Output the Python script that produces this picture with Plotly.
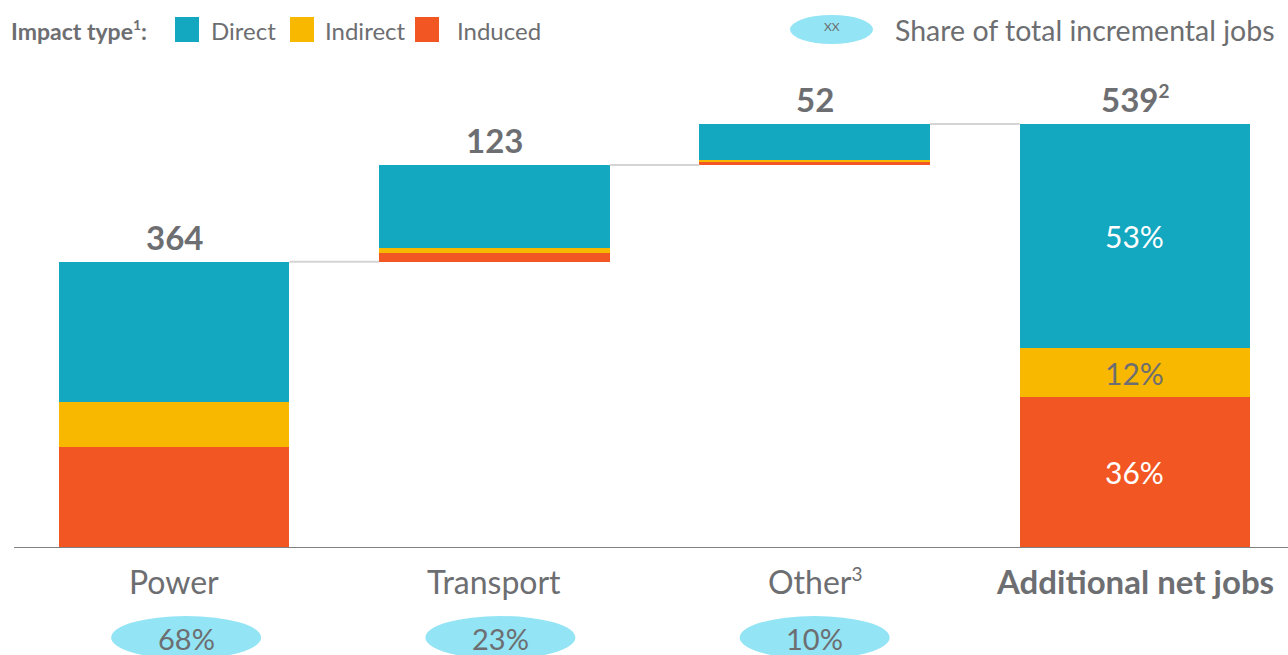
import plotly.graph_objects as go

# ---- data ----
categories = ["Power", "Transport", "Other<sup><span style='font-size:19px'>3</span></sup>", "<b>Additional net jobs</b>"]
direct = [179, 106, 46, 285]
indirect = [57, 6, 2, 62]
induced = [128, 11, 4, 192]
totals = [364, 123, 52, 539]
total_labels = ["364", "123", "52", "539<sup><span style='font-size:19px'>2</span></sup>"]
shares = ["68%", "23%", "10%"]
total_pcts = ["53%", "12%", "36%"]  # direct, indirect, induced of final bar

C_DIRECT = "#13A7C0"
C_INDIRECT = "#F9B800"
C_INDUCED = "#F15623"
GRAY = "#6d6e71"
FONT = "Lato"

x = list(range(len(categories)))
starts = []
run = 0
for i, t in enumerate(totals):
    if i == len(totals) - 1:
        starts.append(0)
    else:
        starts.append(run)
        run += t

BW = 0.72
fig = go.Figure()
series = [("Induced", induced, C_INDUCED), ("Indirect", indirect, C_INDIRECT), ("Direct", direct, C_DIRECT)]
bases = list(starts)
for name, vals, col in series:
    fig.add_trace(go.Bar(x=x, y=vals, base=bases, name=name, marker=dict(color=col, line=dict(width=0)),
                         width=BW, showlegend=False, hoverinfo="skip"))
    bases = [b + v for b, v in zip(bases, vals)]

# pixel helpers (plot area: left 14, width 1274, baseline 548, height 472)
L, W, B, H = 14, 1274, 548, 472
XMIN, XMAX = -0.5, 3.478
UNIT = W / (XMAX - XMIN)
def px(v):
    return (v - L) / W
def py(v):
    return (B - v) / H
def xp(i):  # category index -> paper x
    return (i - XMIN) / (XMAX - XMIN)

ELL_DX = [12, 6, 0]   # small pixel offsets of the share ellipses
ELL_HALF = 75 / UNIT

shapes = []
annotations = []
for i in range(len(totals) - 1):
    top = starts[i] + totals[i]
    shapes.append(dict(type="line", xref="x", yref="y", x0=i + BW / 2, x1=i + 1 - BW / 2, y0=top, y1=top,
                       line=dict(color="#d4d4d4", width=2)))
for i in x:
    annotations.append(dict(x=i, y=starts[i] + totals[i], xref="x", yref="y", text="<b>%s</b>" % total_labels[i],
                            showarrow=False, yanchor="bottom", xanchor="center", yshift=3,
                            font=dict(family=FONT, size=33, color=GRAY)))
for i in x:
    size = 32 if i < len(x) - 1 else 33
    annotations.append(dict(x=xp(i), y=py(581), xref="paper", yref="paper", text=categories[i], showarrow=False,
                            xanchor="center", yanchor="middle", font=dict(family=FONT, size=size, color=GRAY)))
for i, s in enumerate(shares):
    cx = i + ELL_DX[i] / UNIT
    shapes.append(dict(type="circle", xref="paper", yref="paper", x0=xp(cx - ELL_HALF), x1=xp(cx + ELL_HALF),
                       y0=py(659), y1=py(616), fillcolor="#93E4F4", line=dict(width=0)))
    annotations.append(dict(x=xp(cx), y=py(638), xref="paper", yref="paper", text=s, showarrow=False,
                            xanchor="center", yanchor="middle", font=dict(family=FONT, size=29, color=GRAY)))
last = len(totals) - 1
segs = [(direct[last], starts[last] + induced[last] + indirect[last], total_pcts[0], "white"),
        (indirect[last], starts[last] + induced[last], total_pcts[1], GRAY),
        (induced[last], starts[last], total_pcts[2], "white")]
for h, b, t, c in segs:
    annotations.append(dict(x=last, y=b + h / 2, xref="x", yref="y", text=t, showarrow=False,
                            xanchor="center", yanchor="middle", font=dict(family=FONT, size=30, color=c)))

shapes.append(dict(type="line", xref="paper", yref="y", x0=0, x1=1, y0=0, y1=0, line=dict(color="#808080", width=2)))

# ---- legend (manual) ----
annotations.append(dict(x=px(9), y=py(30), xref="paper", yref="paper", xanchor="left", yanchor="middle",
                        text="<b>Impact type<sup><span style='font-size:14px'>1</span></sup>:</b>", showarrow=False,
                        font=dict(family=FONT, size=23, color=GRAY)))
leg = [("Direct", C_DIRECT, 175, 209), ("Indirect", C_INDIRECT, 290, 323), ("Induced", C_INDUCED, 415, 455)]
for name, col, sx, tx in leg:
    shapes.append(dict(type="rect", xref="paper", yref="paper", x0=px(sx), x1=px(sx + 24), y0=py(42), y1=py(17),
                       fillcolor=col, line=dict(width=0)))
    annotations.append(dict(x=px(tx), y=py(30), xref="paper", yref="paper", xanchor="left", yanchor="middle",
                            text=name, showarrow=False, font=dict(family=FONT, size=24, color=GRAY)))
shapes.append(dict(type="circle", xref="paper", yref="paper", x0=px(790), x1=px(873), y0=py(44), y1=py(15),
                   fillcolor="#93E4F4", line=dict(width=0)))
annotations.append(dict(x=px(832), y=py(26), xref="paper", yref="paper", text="XX", showarrow=False,
                        xanchor="center", yanchor="middle", font=dict(family=FONT, size=12, color=GRAY)))
annotations.append(dict(x=px(893), y=py(30), xref="paper", yref="paper", xanchor="left", yanchor="middle",
                        text="Share of total incremental jobs", showarrow=False,
                        font=dict(family=FONT, size=28.5, color=GRAY)))

fig.update_layout(
    width=1288, height=655,
    margin=dict(l=14, r=0, t=76, b=107),
    paper_bgcolor="white", plot_bgcolor="white",
    barmode="overlay", bargap=0,
    xaxis=dict(range=[XMIN, XMAX], showticklabels=False, showgrid=False, zeroline=False, showline=False, fixedrange=True),
    yaxis=dict(range=[0, 600], showticklabels=False, showgrid=False, zeroline=False, showline=False, fixedrange=True),
    shapes=shapes, annotations=annotations,
    font=dict(family=FONT, color=GRAY),
)

fig.write_html("out.html", config={"displayModeBar": False},
               post_script="document.body.style.margin='0';document.body.style.overflow='hidden';")
